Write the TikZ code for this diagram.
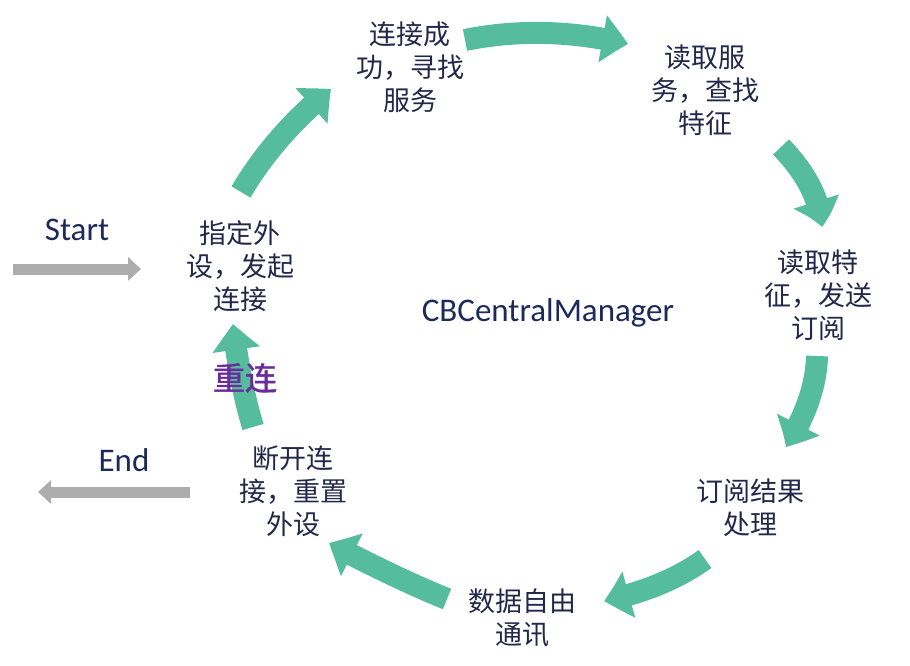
\documentclass[tikz,border=0pt]{standalone}
\usepackage{fontspec}
\usetikzlibrary{arrows.meta,bending,calc}
\newfontfamily\cjk{Noto Sans CJK SC}
\newfontfamily\cjkb[FakeBold=1.2]{Noto Sans CJK SC}
\newfontfamily\lat{Carlito}
\definecolor{ringgreen}{HTML}{55BD9B}
\definecolor{arrgray}{HTML}{ADADAD}
\definecolor{navy}{HTML}{1C2A5A}
\definecolor{cjktext}{HTML}{222849}
\definecolor{rcpurple}{HTML}{6A2C9C}
\tikzset{
  stepbox/.style={align=center, inner sep=0pt, text=cjktext,
    font=\cjk\fontsize{27}{33}\selectfont},
  latlabel/.style={inner sep=0pt, text=navy, font=\lat\fontsize{33}{36}\selectfont},
  ringarrow/.style={draw=ringgreen, line width=22pt,
    -{Triangle[width=46pt,length=26pt,bend]}},
  grayarrow/.style={draw=arrgray, line width=11pt,
    -{Triangle[width=23pt,length=13pt]}}
}
% quadratic curve from #1 to #3 with control #2, as a cubic
\newcommand{\quadarrow}[3]{%
  \draw[ringarrow] (#1) .. controls ($(#1)!2/3!(#2)$) and ($(#3)!2/3!(#2)$) .. (#3);}
\begin{document}
\begin{tikzpicture}[x=1pt,y=-1pt]
\useasboundingbox (0,0) rectangle (910,666);
% step texts
\node[stepbox] (n1) at (240,266) {指定外\\设，发起\\连接};
\node[stepbox] (n2) at (410,67) {连接成\\功，寻找\\服务};
\node[stepbox] (n3) at (705,90) {读取服\\务，查找\\特征};
\node[stepbox] (n4) at (818,295) {读取特\\征，发送\\订阅};
\node[stepbox] (n5) at (750,508) {订阅结果\\处理};
\node[stepbox] (n6) at (522,618) {数据自由\\通讯};
\node[stepbox] (n7) at (293,491) {断开连\\接，重置\\外设};
\node[latlabel] (mgr) at (548,313) {CBCentralManager};
\node[latlabel] (start) at (77,230) {Start};
\node[latlabel] (end) at (124,460) {End};
% arrow coordinates (start, control, end)
\coordinate (a1s) at (465,40);  \coordinate (a1q) at (544,24);    \coordinate (a1e) at (628,44);
\coordinate (a2s) at (781,147); \coordinate (a2q) at (818.5,185.5); \coordinate (a2e) at (822,227);
\coordinate (a3s) at (817,356); \coordinate (a3q) at (816,399);   \coordinate (a3e) at (786,447);
\coordinate (a4s) at (705,559); \coordinate (a4q) at (665,588);   \coordinate (a4e) at (604,601);
\coordinate (a5s) at (447,599); \coordinate (a5q) at (397.5,579); \coordinate (a5e) at (329,543);
\coordinate (a6s) at (253,427); \coordinate (a6q) at (239,380);   \coordinate (a6e) at (233,324);
\coordinate (a7s) at (241,192); \coordinate (a7q) at (274.5,135); \coordinate (a7e) at (331,89);
\coordinate (ss) at (13,269);   \coordinate (se) at (141,269);
\coordinate (es) at (190,492);  \coordinate (ee) at (38,492);
% green ring arrows
\quadarrow{a1s}{a1q}{a1e}
\quadarrow{a2s}{a2q}{a2e}
\quadarrow{a3s}{a3q}{a3e}
\quadarrow{a4s}{a4q}{a4e}
\quadarrow{a5s}{a5q}{a5e}
\quadarrow{a6s}{a6q}{a6e}
\quadarrow{a7s}{a7q}{a7e}
% gray arrows
\draw[grayarrow] (ss) -- (se);
\draw[grayarrow] (es) -- (ee);
% reconnect label
\node[inner sep=0pt, text=rcpurple, font=\cjkb\fontsize{32}{36}\selectfont] (rc) at (245,378) {重连};
\end{tikzpicture}
\end{document}
